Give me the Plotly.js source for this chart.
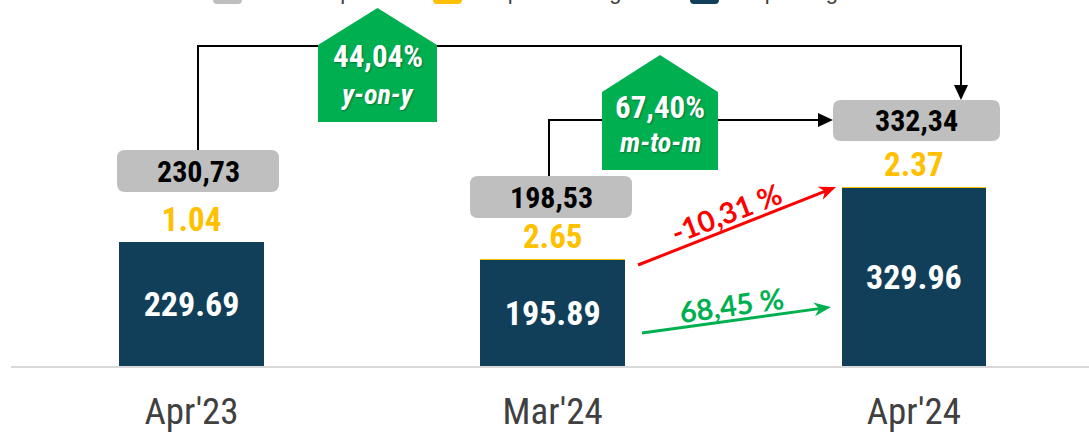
<!DOCTYPE html>
<html><head><meta charset="utf-8">
<script src="https://cdn.plot.ly/plotly-3.0.1.min.js"></script>
<style>html,body{margin:0;padding:0;background:#fff}#chart{width:1089px;height:433px}</style>
</head><body><div id="chart"></div>
<script>
// ---- data ----
const categories = ["Apr'23", "Mar'24", "Apr'24"];
const migas = [229.69, 195.89, 329.96];
const nonmigas = [1.04, 2.65, 2.37];
const total = [230.73, 198.53, 332.34];
const legendNames = ["Total Ekspor", "Ekspor Nonmigas", "Ekspor Migas"];
const yoyPct = 44.04;
const mtmPct = 67.40;
const chgNonmigasPct = -10.31;
const chgMigasPct = 68.45;

// ---- helpers ----
const W = 1089, H = 433, ML = 11, MR = 0, MT = 13, MB = 67;
const PW = W - ML - MR, PH = H - MT - MB;
const X = px => (px - ML) / PW;
const Y = py => (H - MB - py) / PH;
const comma = v => v.toFixed(2).replace('.', ',');
const NARROW = '"Roboto Condensed", "Liberation Sans Narrow", "Arial Narrow", sans-serif';
const GRAY = '#bfbfbf', YEL = '#ffc000', DARK = '#113f59', GREEN = '#00b050', RED = '#ff0000';

function pathPx(pts, close) {
  return pts.map((p, i) => (i ? 'L' : 'M') + X(p[0]).toFixed(5) + ',' + Y(p[1]).toFixed(5)).join(' ') + (close ? ' Z' : '');
}
function roundRect(x0, y0, x1, y1, r) {
  const P = (x, y) => X(x).toFixed(5) + ',' + Y(y).toFixed(5);
  return 'M' + P(x0 + r, y0) + ' L' + P(x1 - r, y0) + ' Q' + P(x1, y0) + ' ' + P(x1, y0 + r) +
    ' L' + P(x1, y1 - r) + ' Q' + P(x1, y1) + ' ' + P(x1 - r, y1) +
    ' L' + P(x0 + r, y1) + ' Q' + P(x0, y1) + ' ' + P(x0, y1 - r) +
    ' L' + P(x0, y0 + r) + ' Q' + P(x0, y0) + ' ' + P(x0 + r, y0) + ' Z';
}
function arrowHead(tail, tip, len, half) {
  const dx = tip[0] - tail[0], dy = tip[1] - tail[1], L = Math.hypot(dx, dy);
  const ux = dx / L, uy = dy / L, nx = -uy, ny = ux;
  const bx = tip[0] - len * ux, by = tip[1] - len * uy;
  const nxp = tip[0] - len * 0.7 * ux, nyp = tip[1] - len * 0.7 * uy;
  return pathPx([tip, [bx + half * nx, by + half * ny], [nxp, nyp], [bx - half * nx, by - half * ny]], true);
}

const shapes = [];
const annotations = [];

// legend (clipped at top of picture, as in the reference)
const legendColors = [GRAY, YEL, DARK];
const legendSwatch = [[213, 242], [433, 462], [690, 719]];
legendNames.forEach((n, i) => {
  shapes.push({type: 'path', xref: 'paper', yref: 'paper', path: roundRect(legendSwatch[i][0], -14, legendSwatch[i][1], 4, 4),
    fillcolor: legendColors[i], line: {width: 0}});
  annotations.push({xref: 'paper', yref: 'paper', x: X(legendSwatch[i][1] + 7), y: Y(-8), xanchor: 'left', yanchor: 'middle',
    text: n, showarrow: false, font: {family: 'Liberation Sans, Arial, sans-serif', size: 22, color: '#404040'}});
});

// connectors
shapes.push({type: 'path', xref: 'paper', yref: 'paper', path: pathPx([[198, 150], [198, 46], [961, 46], [961, 88]]),
  line: {color: '#000', width: 2}});
shapes.push({type: 'path', xref: 'paper', yref: 'paper', path: pathPx([[961, 100], [954, 85], [968, 85]], true),
  fillcolor: '#000', line: {width: 0}});
shapes.push({type: 'path', xref: 'paper', yref: 'paper', path: pathPx([[549, 176], [549, 120], [820, 120]]),
  line: {color: '#000', width: 2}});
shapes.push({type: 'path', xref: 'paper', yref: 'paper', path: pathPx([[833, 120], [818, 113], [818, 127]], true),
  fillcolor: '#000', line: {width: 0}});

// houses
const houses = [
  {l: 318, r: 437, apex: 8, sh: 45, b: 122, t1: yoyPct, t2: 'y-on-y', c1: 57, c2: 94},
  {l: 602, r: 718, apex: 55, sh: 92, b: 170, t1: mtmPct, t2: 'm-to-m', c1: 108, c2: 143}
];
houses.forEach(h => {
  const cx = (h.l + h.r) / 2;
  shapes.push({type: 'path', xref: 'paper', yref: 'paper',
    path: pathPx([[h.l, h.b], [h.l, h.sh], [cx, h.apex], [h.r, h.sh], [h.r, h.b]], true),
    fillcolor: GREEN, line: {width: 0}});
  annotations.push({xref: 'paper', yref: 'paper', x: X(cx), y: Y(h.c1), xanchor: 'center', yanchor: 'middle', showarrow: false,
    text: comma(h.t1) + '%', font: {family: NARROW, size: 31, color: '#fff', weight: 'bold', shadow: '1px 1px 2px rgba(0,0,0,0.35)'}});
  annotations.push({xref: 'paper', yref: 'paper', x: X(cx), y: Y(h.c2), xanchor: 'center', yanchor: 'middle', showarrow: false,
    text: '<i>' + h.t2 + '</i>', font: {family: NARROW, size: 28, color: '#fff', weight: 'bold', shadow: '1px 1px 2px rgba(0,0,0,0.35)'}});
});

// total boxes
const boxes = [[117, 150, 279, 192], [470, 176, 632, 218], [833, 100, 1000, 141]];
total.forEach((v, i) => {
  const b = boxes[i];
  shapes.push({type: 'path', xref: 'paper', yref: 'paper', path: roundRect(b[0], b[1], b[2], b[3], 8),
    fillcolor: GRAY, line: {width: 0}});
  annotations.push({xref: 'paper', yref: 'paper', x: X((b[0] + b[2]) / 2), y: Y((b[1] + b[3]) / 2), xanchor: 'center', yanchor: 'middle',
    showarrow: false, text: comma(v), font: {family: NARROW, size: 30, color: '#000', weight: 'bold'}});
});

// growth arrows
const arrows = [
  {tail: [638, 265], tip: [836, 187], color: RED, text: chgNonmigasPct, tx: 726, ty: 212, ang: -21},
  {tail: [642, 333], tip: [831, 307], color: GREEN, text: chgMigasPct, tx: 732, ty: 304, ang: -8}
];
arrows.forEach(a => {
  const dx = a.tip[0] - a.tail[0], dy = a.tip[1] - a.tail[1], L = Math.hypot(dx, dy);
  const end = [a.tip[0] - 10 * dx / L, a.tip[1] - 10 * dy / L];
  shapes.push({type: 'path', xref: 'paper', yref: 'paper', path: pathPx([a.tail, end]), line: {color: a.color, width: 3}});
  shapes.push({type: 'path', xref: 'paper', yref: 'paper', path: arrowHead(a.tail, a.tip, 17, 7), fillcolor: a.color, line: {width: 0}});
  annotations.push({xref: 'paper', yref: 'paper', x: X(a.tx), y: Y(a.ty), xanchor: 'center', yanchor: 'middle', showarrow: false,
    textangle: a.ang, text: comma(a.text) + ' %', font: {family: 'Lato, "Open Sans", sans-serif', size: 29, color: a.color, weight: 'bold'}});
});

const traces = [
  {type: 'bar', name: legendNames[2], x: categories, y: migas, marker: {color: DARK, line: {width: 0}},
    text: migas.map(v => v.toFixed(2)), textposition: 'inside', insidetextanchor: 'middle',
    textfont: {family: NARROW, size: 34, color: '#fff', weight: 'bold'}, hoverinfo: 'skip'},
  {type: 'bar', name: legendNames[1], x: categories, y: nonmigas, marker: {color: YEL, line: {width: 0}},
    text: nonmigas.map(v => v.toFixed(2)), textposition: 'outside', cliponaxis: false,
    textfont: {family: NARROW, size: 33, color: YEL, weight: 'bold'}, hoverinfo: 'skip'}
];

const layout = {
  width: W, height: H, margin: {l: ML, r: MR, t: MT, b: MB, autoexpand: false},
  paper_bgcolor: '#fff', plot_bgcolor: '#fff', barmode: 'stack', bargap: 0.6, showlegend: false,
  xaxis: {type: 'category', range: [-0.5, 2.485], showline: true, linecolor: '#d9d9d9', linewidth: 1.5,
    showgrid: false, zeroline: false, ticks: '', ticklabelstandoff: 12,
    tickfont: {family: NARROW, size: 37, color: '#404040'}, fixedrange: true},
  yaxis: {range: [0, 655], visible: false, showgrid: false, zeroline: false, fixedrange: true},
  shapes: shapes, annotations: annotations
};

Plotly.newPlot('chart', traces, layout, {displayModeBar: false, staticPlot: true});
</script></body></html>
